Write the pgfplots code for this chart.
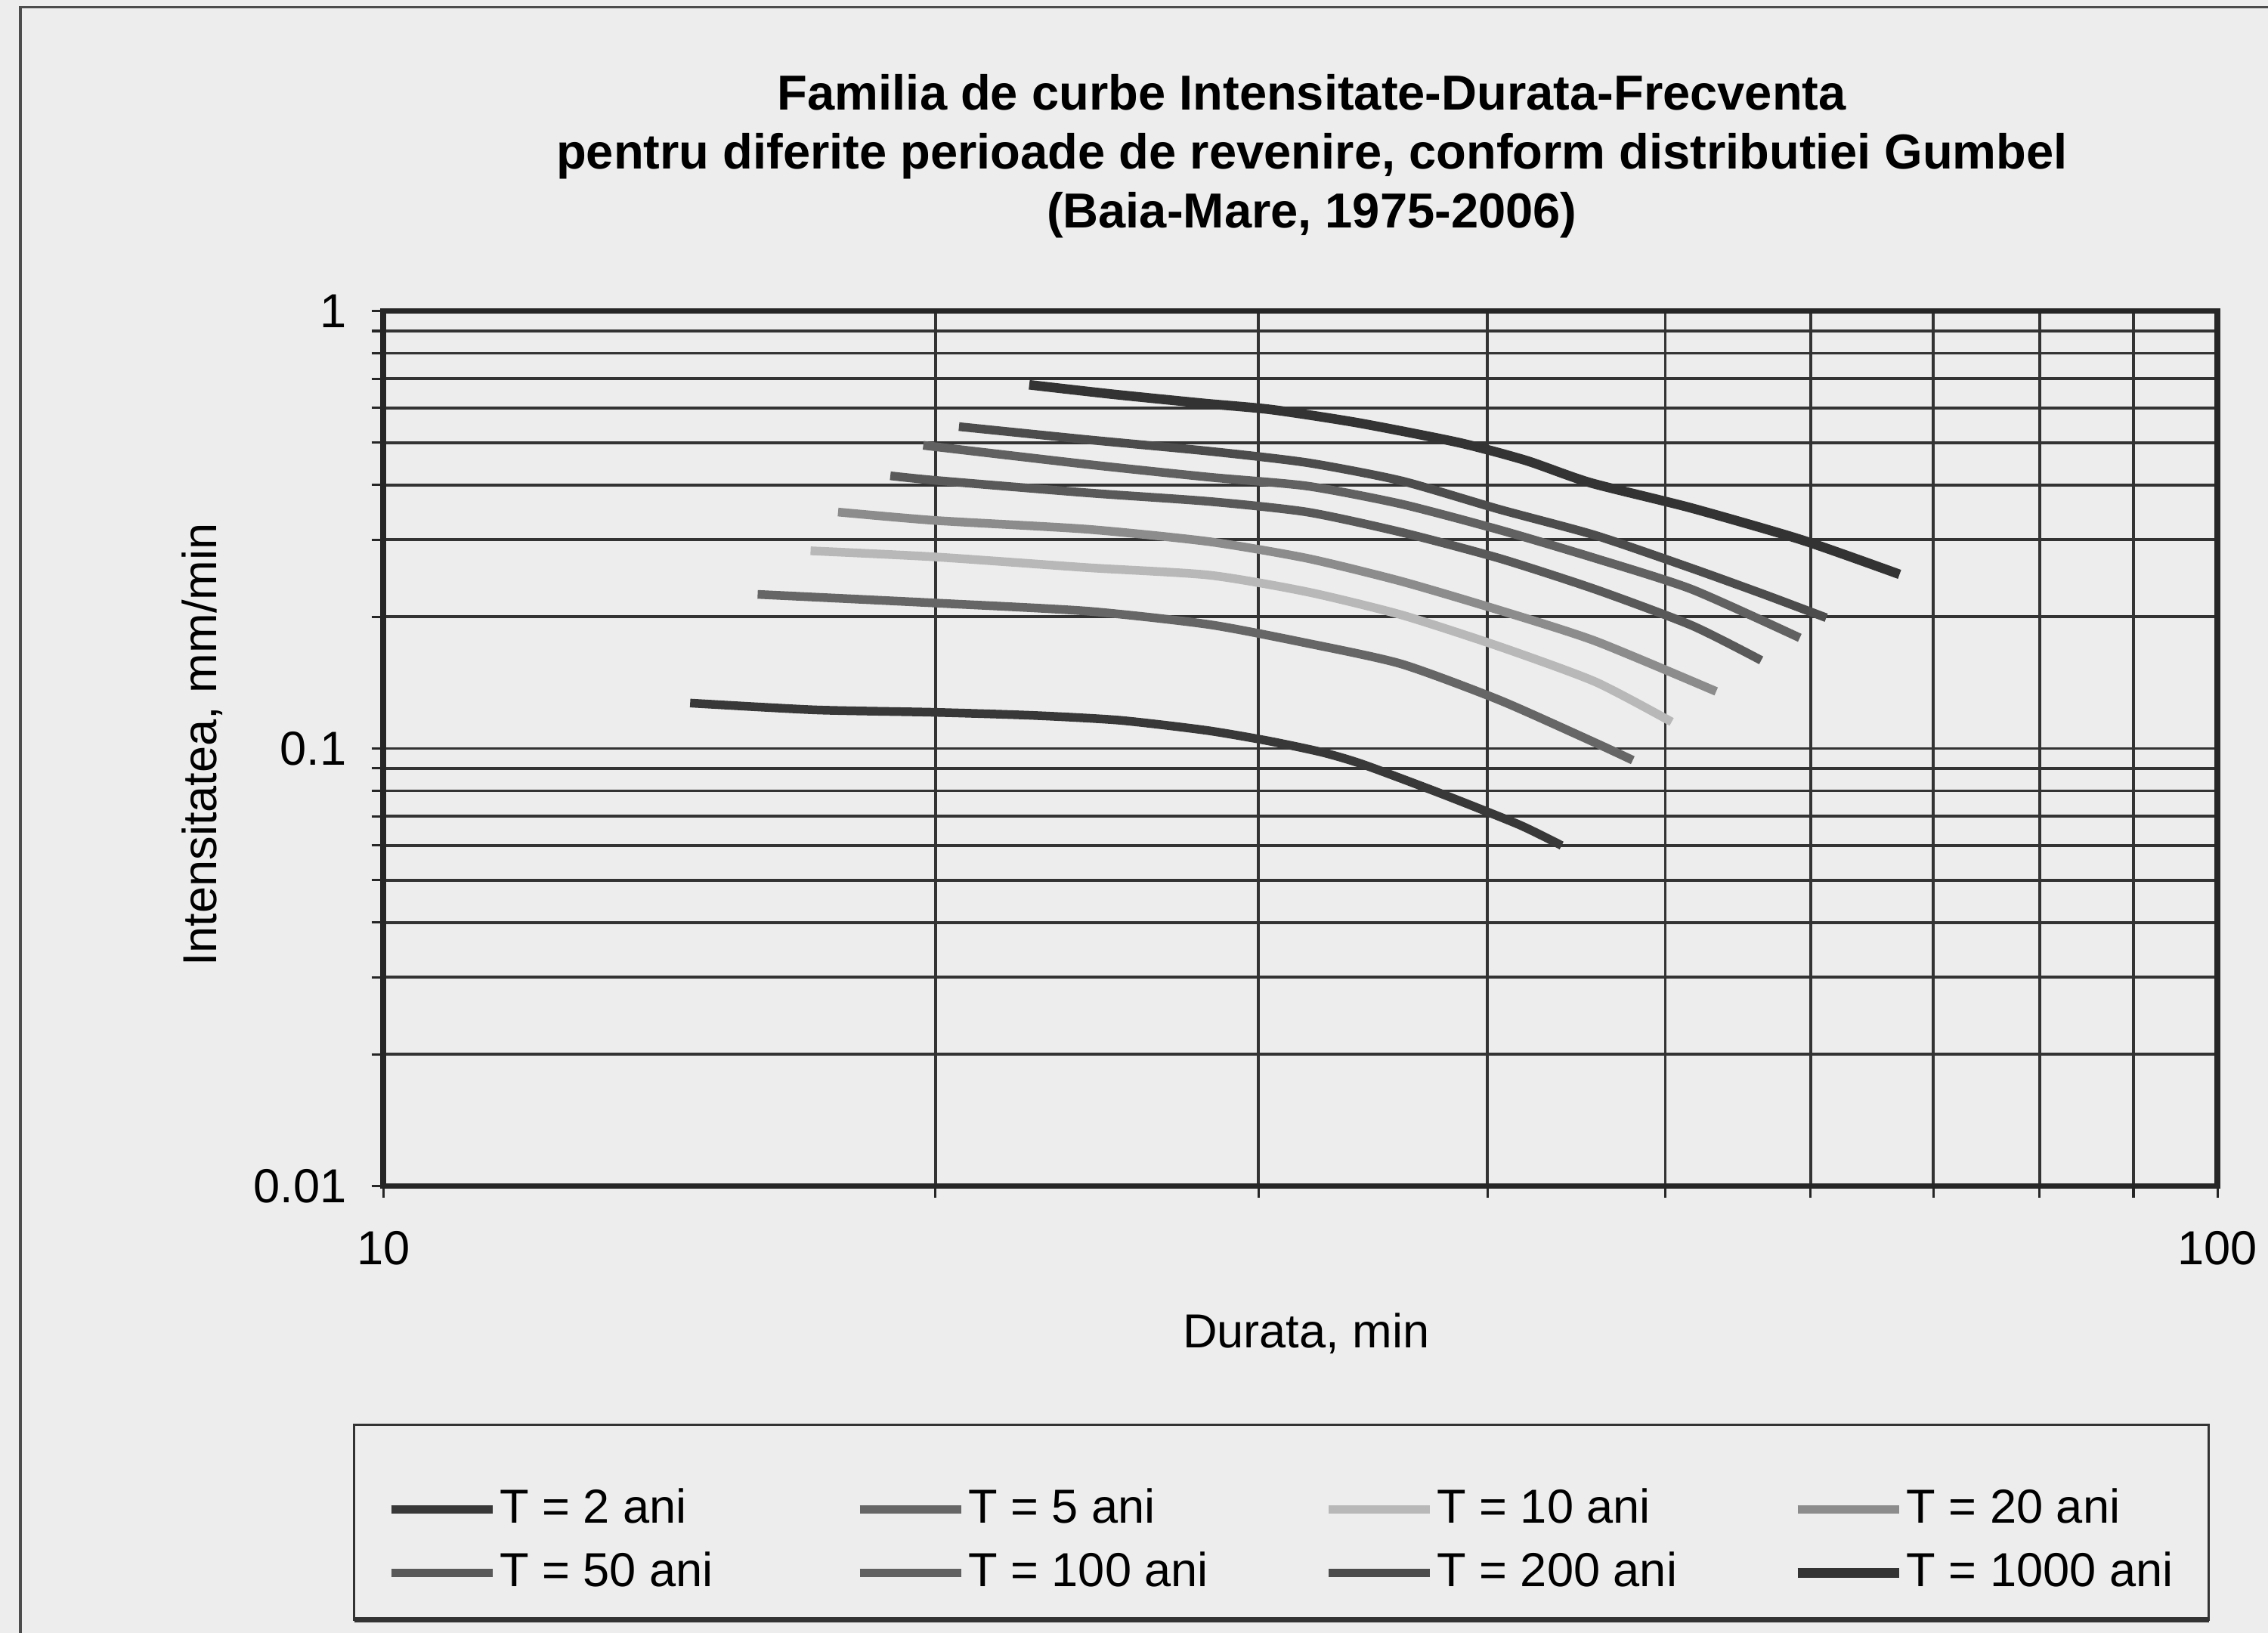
\documentclass[border=0pt]{standalone}
\usepackage{pgfplots}
\pgfplotsset{compat=1.18}
\usepackage{fontspec}
\setmainfont{Liberation Sans}
\begin{document}
\fontsize{16.5}{20}\selectfont
\begin{tikzpicture}[x=1pt,y=1pt]
\useasboundingbox (-132.5,-154.5) rectangle (651.5,410);
\fill[black!7] (-132.5,-154.5) rectangle (651.5,410);
\draw[black!70, line width=1pt] (-125.5,-170) -- (-125.5,407.5) -- (670,407.5);
\begin{axis}[
  at={(0,0)}, anchor=south west,
  scale only axis, width=634pt, height=302.5pt,
  xmode=log, ymode=log,
  xmin=10, xmax=100, ymin=0.01, ymax=1,
  xtick={10,100}, xticklabels={10,100},
  ytick={0.01,0.1,1}, yticklabels={0.01,0.1,1},
  minor xtick={20,30,40,50,60,70,80,90},
  minor ytick={0.02,0.03,0.04,0.05,0.06,0.07,0.08,0.09,0.2,0.3,0.4,0.5,0.6,0.7,0.8,0.9},
  grid=both,
  major grid style={black!80, line width=1pt},
  minor grid style={black!80, line width=1pt},
  axis line style={black!85, line width=2pt},
  tick style={black!85, line width=0.8pt},
  tick align=outside, tick pos=left,
  major tick length=4pt, minor tick length=4pt,
  xticklabel style={font=\fontsize{16.5}{20}\selectfont, yshift=-6pt},
  yticklabel style={font=\fontsize{16.5}{20}\selectfont, xshift=-3pt},
  axis background/.style={fill=black!7},
  legend columns=4,
  legend style={at={(axis description cs:0.4897,-0.4058)}, anchor=center,
    draw=none, fill=none,
    inner xsep=0pt, inner ysep=0pt, row sep=5.5pt,
    nodes={inner sep=1pt}, font=\fontsize{16.5}{20}\selectfont},
  legend cell align=left,
  legend image code/.code={\draw[#1] (0pt,0pt) -- (35pt,0pt);},
  every axis plot/.append style={smooth, tension=0.4, line width=3pt},
]
\addplot[black!78] coordinates {(14.7,0.127) (17.2,0.1225) (19.9,0.121) (22.6,0.119) (25.2,0.116) (28.1,0.110) (30.4,0.104) (32.5,0.098) (34.2,0.092) (37.7,0.079) (41.6,0.067) (43.9,0.060)};
\addplot[black!60] coordinates {(16.0,0.225) (20,0.215) (24.2,0.206) (28.2,0.192) (31.9,0.174) (35.9,0.156) (40.6,0.129) (45.8,0.103) (48.0,0.094)};
\addplot[black!28] coordinates {(17.1,0.283) (20,0.274) (24.2,0.259) (28.2,0.249) (31.9,0.228) (35.9,0.202) (40.6,0.171) (45.8,0.142) (50.4,0.115)};
\addplot[black!45] coordinates {(17.7,0.347) (20,0.332) (24.2,0.317) (28.2,0.297) (31.9,0.272) (35.9,0.241) (40.6,0.207) (45.8,0.176) (53.3,0.135)};
\addplot[black!65] coordinates {(18.9,0.420) (20,0.410) (24.2,0.384) (28.2,0.367) (31.9,0.347) (35.9,0.312) (40.6,0.272) (45.8,0.231) (51.7,0.191) (56.4,0.159)};
\addplot[black!62] coordinates {(19.7,0.493) (24.2,0.446) (28.2,0.417) (31.9,0.398) (35.9,0.362) (40.6,0.316) (45.8,0.272) (51.7,0.231) (59.2,0.179)};
\addplot[black!70] coordinates {(20.6,0.544) (24.2,0.508) (28.2,0.478) (31.9,0.450) (35.9,0.409) (40.6,0.352) (45.8,0.307) (51.7,0.258) (56.6,0.225) (61.2,0.199)};
\addplot[black!80, line width=3.3pt] coordinates {(22.5,0.678) (25,0.645) (28,0.615) (30.5,0.595) (34,0.555) (38.6,0.500) (42,0.455) (45.5,0.405) (51.6,0.355) (59.3,0.300) (67.1,0.250)};
\legend{\makebox[122pt][l]{T = 2 ani},\makebox[122pt][l]{T = 5 ani},\makebox[122pt][l]{T = 10 ani},T = 20 ani,
  \makebox[122pt][l]{T = 50 ani},\makebox[122pt][l]{T = 100 ani},\makebox[122pt][l]{T = 200 ani},T = 1000 ani}
\end{axis}
\draw[black!80, line width=0.8pt] (-10,-150) rectangle (631,-82.5);
\draw[black!80, line width=2pt] (-10,-150) -- (631,-150);
\node[align=center, font=\fontsize{17}{20.5}\selectfont\bfseries] at (321,356)
  {Familia de curbe Intensitate-Durata-Frecventa\\pentru diferite perioade de revenire, conform distributiei Gumbel\\(Baia-Mare, 1975-2006)};
\node[rotate=90] at (-62.5,152.5) {Intensitatea, mm/min};
\node at (319,-51) {Durata, min};
\end{tikzpicture}
\end{document}
